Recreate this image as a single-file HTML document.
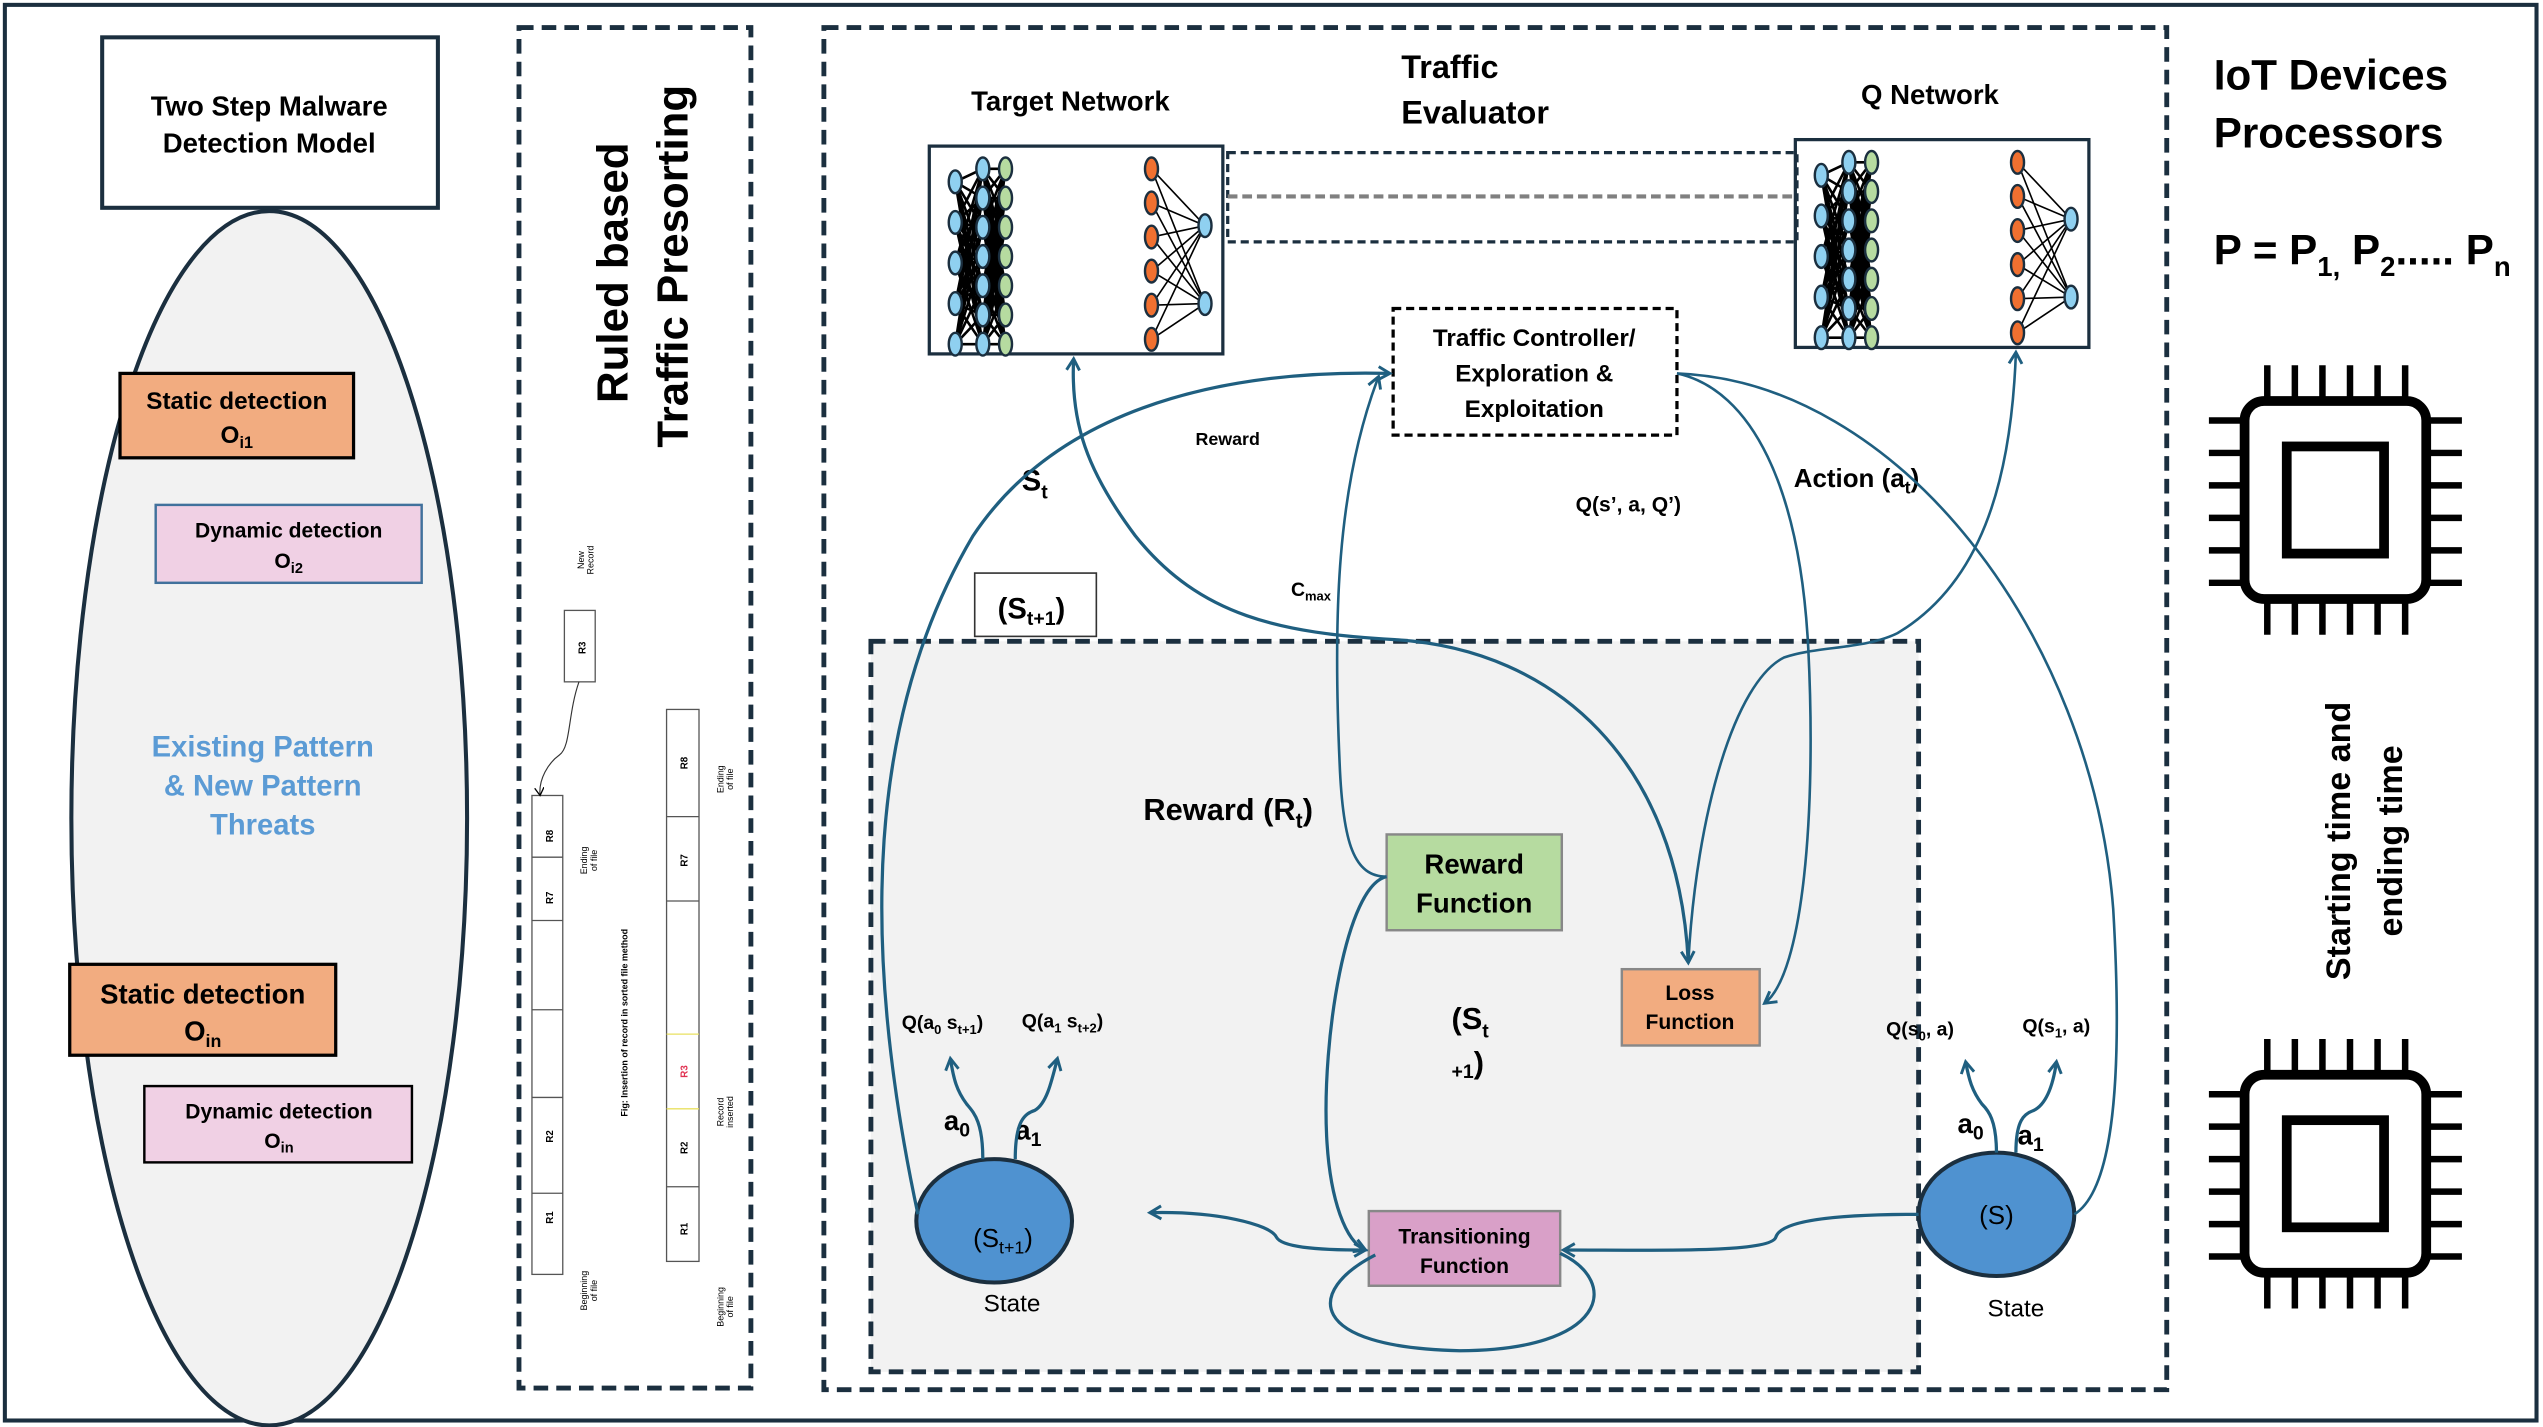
<!DOCTYPE html>
<html><head><meta charset="utf-8"><style>
html,body{margin:0;padding:0;background:#fff;}
svg{display:block;}
text{font-family:"Liberation Sans",sans-serif;font-weight:bold;fill:#000;}
</style></head><body>
<svg id="s" width="2543" height="1427" viewBox="0 0 1568 879" preserveAspectRatio="none" xmlns="http://www.w3.org/2000/svg">
<defs>
<marker id="ar" markerWidth="10" markerHeight="10" refX="8" refY="5" orient="auto" markerUnits="userSpaceOnUse">
<path d="M1,1 L8,5 L1,9" fill="none" stroke="#1f5f80" stroke-width="1.8"/></marker>
<marker id="ars" markerWidth="10" markerHeight="10" refX="2" refY="5" orient="auto" markerUnits="userSpaceOnUse">
<path d="M9,1 L2,5 L9,9" fill="none" stroke="#1f5f80" stroke-width="1.8"/></marker>
<marker id="ak" markerWidth="6" markerHeight="6" refX="5" refY="3" orient="auto" markerUnits="userSpaceOnUse">
<path d="M0,0 L5,3 L0,6" fill="none" stroke="#000" stroke-width="0.8"/></marker>
</defs>
<rect x="3" y="3" width="1561" height="872" fill="#fff" stroke="#1b2f3f" stroke-width="2.5"/>

<!-- LEFT PANEL -->
<rect x="63" y="23" width="207" height="105" fill="#fff" stroke="#1b2f3f" stroke-width="2.5"/>
<text x="166" y="71" font-size="17" text-anchor="middle">Two Step Malware</text>
<text x="166" y="94" font-size="17" text-anchor="middle">Detection Model</text>
<ellipse cx="166" cy="504" rx="122" ry="374" fill="#f2f2f2" stroke="#1b2f3f" stroke-width="2.5"/>
<rect x="74" y="230" width="144" height="52" fill="#f2ac80" stroke="#000" stroke-width="2"/>
<text x="146" y="252" font-size="15" text-anchor="middle">Static detection</text>
<text x="146" y="273" font-size="15" text-anchor="middle">O<tspan font-size="10" dy="3">i1</tspan></text>
<rect x="96" y="311" width="164" height="48" fill="#f0d0e4" stroke="#41719c" stroke-width="1.5"/>
<text x="178" y="331" font-size="13" text-anchor="middle">Dynamic detection</text>
<text x="178" y="350" font-size="13" text-anchor="middle">O<tspan font-size="9" dy="3">i2</tspan></text>
<text x="162" y="466" font-size="18" text-anchor="middle" style="fill:#5b9bd5">Existing Pattern</text>
<text x="162" y="490" font-size="18" text-anchor="middle" style="fill:#5b9bd5">&amp; New Pattern</text>
<text x="162" y="514" font-size="18" text-anchor="middle" style="fill:#5b9bd5">Threats</text>
<rect x="43" y="594" width="164" height="56" fill="#f2ac80" stroke="#000" stroke-width="2"/>
<text x="125" y="618" font-size="17" text-anchor="middle">Static detection</text>
<text x="125" y="641" font-size="17" text-anchor="middle">O<tspan font-size="11" dy="4">in</tspan></text>
<rect x="89" y="669" width="165" height="47" fill="#f0d0e4" stroke="#000" stroke-width="1.5"/>
<text x="172" y="689" font-size="13" text-anchor="middle">Dynamic detection</text>
<text x="172" y="707" font-size="13" text-anchor="middle">O<tspan font-size="9" dy="3">in</tspan></text>

<!-- MIDDLE PANEL -->
<rect x="320" y="17" width="143" height="838" fill="none" stroke="#1b2f3f" stroke-width="3" stroke-dasharray="9,5"/>
<text transform="translate(387,168) rotate(-90)" font-size="27" text-anchor="middle">Ruled based</text>
<text transform="translate(424,164) rotate(-90)" font-size="27" text-anchor="middle">Traffic Presorting</text>
<g stroke="#555" stroke-width="0.8" fill="#fff">
<rect x="328" y="490" width="19" height="295"/>
<line x1="328" y1="528" x2="347" y2="528"/><line x1="328" y1="567" x2="347" y2="567"/>
<line x1="328" y1="622" x2="347" y2="622"/><line x1="328" y1="676" x2="347" y2="676"/>
<line x1="328" y1="735" x2="347" y2="735"/>
<rect x="348" y="376" width="19" height="44"/>
<rect x="411" y="437" width="20" height="340"/>
<line x1="411" y1="503" x2="431" y2="503"/><line x1="411" y1="555" x2="431" y2="555"/>
<line x1="411" y1="637" x2="431" y2="637" stroke="#e8e060"/><line x1="411" y1="683" x2="431" y2="683" stroke="#e8e060"/>
<line x1="411" y1="731" x2="431" y2="731"/>
</g>
<path d="M357,420 C350,440 352,460 345,465 C338,470 332,480 333,490" fill="none" stroke="#333" stroke-width="0.7" marker-end="url(#ak)"/>
<g font-size="6" style="font-weight:bold">
<text transform="translate(341,515) rotate(-90)" text-anchor="middle">R8</text>
<text transform="translate(341,553) rotate(-90)" text-anchor="middle">R7</text>
<text transform="translate(341,700) rotate(-90)" text-anchor="middle">R2</text>
<text transform="translate(341,750) rotate(-90)" text-anchor="middle">R1</text>
<text transform="translate(361,399) rotate(-90)" text-anchor="middle">R3</text>
<text transform="translate(424,470) rotate(-90)" text-anchor="middle">R8</text>
<text transform="translate(424,530) rotate(-90)" text-anchor="middle">R7</text>
<text transform="translate(424,660) rotate(-90)" text-anchor="middle" style="fill:#e03050">R3</text>
<text transform="translate(424,707) rotate(-90)" text-anchor="middle">R2</text>
<text transform="translate(424,757) rotate(-90)" text-anchor="middle">R1</text>
<text transform="translate(387,630) rotate(-90)" text-anchor="middle" font-size="5.5">Fig: Insertion of record in sorted file method</text>
</g>
<g font-size="5.5" style="font-weight:normal">
<text transform="translate(360,345) rotate(-90)" text-anchor="middle" style="font-weight:normal">New</text>
<text transform="translate(366,345) rotate(-90)" text-anchor="middle" style="font-weight:normal">Record</text>
<text transform="translate(362,530) rotate(-90)" text-anchor="middle" style="font-weight:normal">Ending</text>
<text transform="translate(368,530) rotate(-90)" text-anchor="middle" style="font-weight:normal">of file</text>
<text transform="translate(362,795) rotate(-90)" text-anchor="middle" style="font-weight:normal">Beginning</text>
<text transform="translate(368,795) rotate(-90)" text-anchor="middle" style="font-weight:normal">of file</text>
<text transform="translate(446,480) rotate(-90)" text-anchor="middle" style="font-weight:normal">Ending</text>
<text transform="translate(452,480) rotate(-90)" text-anchor="middle" style="font-weight:normal">of file</text>
<text transform="translate(446,685) rotate(-90)" text-anchor="middle" style="font-weight:normal">Record</text>
<text transform="translate(452,685) rotate(-90)" text-anchor="middle" style="font-weight:normal">inserted</text>
<text transform="translate(446,805) rotate(-90)" text-anchor="middle" style="font-weight:normal">Beginning</text>
<text transform="translate(452,805) rotate(-90)" text-anchor="middle" style="font-weight:normal">of file</text>
</g>

<!-- MAIN PANEL -->
<rect x="508" y="17" width="828" height="839" fill="none" stroke="#1b2f3f" stroke-width="3" stroke-dasharray="9,5"/>
<rect x="537" y="395" width="646" height="450" fill="#f2f2f2" stroke="#1b2f3f" stroke-width="3" stroke-dasharray="9,5"/>
<text x="660" y="68" font-size="17" text-anchor="middle">Target Network</text>
<text x="864" y="48" font-size="20">Traffic</text>
<text x="864" y="76" font-size="20">Evaluator</text>
<text x="1190" y="64" font-size="17" text-anchor="middle">Q Network</text>
<rect x="573" y="90" width="181" height="128" fill="#fff" stroke="#1b2f3f" stroke-width="2"/>
<rect x="1107" y="86" width="181" height="128" fill="#fff" stroke="#1b2f3f" stroke-width="2"/>
<g id="nn1"></g><g id="nn2"></g>
<rect x="757" y="94" width="351" height="55" fill="none" stroke="#1b2f3f" stroke-width="2" stroke-dasharray="5,3"/>
<line x1="757" y1="121" x2="1108" y2="121" stroke="#808080" stroke-width="2.5" stroke-dasharray="6,3"/>
<rect x="859" y="190" width="175" height="78" fill="#fff" stroke="#000" stroke-width="2" stroke-dasharray="5,3"/>
<text x="946" y="213" font-size="15" text-anchor="middle">Traffic Controller/</text>
<text x="946" y="235" font-size="15" text-anchor="middle">Exploration &amp;</text>
<text x="946" y="257" font-size="15" text-anchor="middle">Exploitation</text>

<rect x="601" y="353" width="75" height="39" fill="#fff" stroke="#333" stroke-width="1"/>
<text x="636" y="381" font-size="18" text-anchor="middle">(S<tspan font-size="12" dy="4">t+1</tspan><tspan dy="-4">)</tspan></text>
<text x="757" y="274" font-size="11" text-anchor="middle">Reward</text>
<text x="630" y="302" font-size="18">S<tspan font-size="12" dy="5">t</tspan></text>
<text x="1004" y="315" font-size="13" text-anchor="middle">Q(s’, a, Q’)</text>
<text x="1106" y="300" font-size="16">Action (a<tspan font-size="11" dy="4">t</tspan><tspan dy="-4">)</tspan></text>
<text x="796" y="367" font-size="12">C<tspan font-size="8" dy="3">max</tspan></text>
<text x="705" y="505" font-size="19">Reward (R<tspan font-size="13" dy="5">t</tspan><tspan dy="-5">)</tspan></text>
<rect x="855" y="514" width="108" height="59" fill="#b6dba0" stroke="#888" stroke-width="1.5"/>
<text x="909" y="538" font-size="17" text-anchor="middle">Reward</text>
<text x="909" y="562" font-size="17" text-anchor="middle">Function</text>
<rect x="1000" y="597" width="85" height="47" fill="#f2ac80" stroke="#888" stroke-width="1.5"/>
<text x="1042" y="616" font-size="13" text-anchor="middle">Loss</text>
<text x="1042" y="634" font-size="13" text-anchor="middle">Function</text>
<text x="895" y="634" font-size="19">(S<tspan font-size="12" dy="5">t</tspan></text>
<text x="895" y="664" font-size="12">+1<tspan font-size="19" dy="-3">)</tspan></text>
<rect x="844" y="746" width="118" height="46" fill="#d9a0c8" stroke="#888" stroke-width="1.5"/>
<text x="903" y="766" font-size="13" text-anchor="middle">Transitioning</text>
<text x="903" y="784" font-size="13" text-anchor="middle">Function</text>

<ellipse cx="613" cy="752" rx="48" ry="38" fill="#4f92d0" stroke="#1b2f3f" stroke-width="2.5"/>
<text x="600" y="768" font-size="16" style="font-weight:normal">(S<tspan font-size="11" dy="4">t+1</tspan><tspan dy="-4">)</tspan></text>
<text x="624" y="808" font-size="15" text-anchor="middle" style="font-weight:normal">State</text>
<ellipse cx="1231" cy="748" rx="48" ry="38" fill="#4f92d0" stroke="#1b2f3f" stroke-width="2.5"/>
<text x="1231" y="754" font-size="16" text-anchor="middle" style="font-weight:normal">(S)</text>
<text x="1243" y="811" font-size="15" text-anchor="middle" style="font-weight:normal">State</text>

<text x="556" y="634" font-size="12">Q(a<tspan font-size="8" dy="3">0</tspan><tspan dy="-3"> s</tspan><tspan font-size="8" dy="3">t+1</tspan><tspan dy="-3">)</tspan></text>
<text x="630" y="633" font-size="12">Q(a<tspan font-size="8" dy="3">1</tspan><tspan dy="-3"> s</tspan><tspan font-size="8" dy="3">t+2</tspan><tspan dy="-3">)</tspan></text>
<text x="1163" y="638" font-size="12">Q(s<tspan font-size="8" dy="3">0</tspan><tspan dy="-3">, a)</tspan></text>
<text x="1247" y="636" font-size="12">Q(s<tspan font-size="8" dy="3">1</tspan><tspan dy="-3">, a)</tspan></text>
<text x="582" y="696" font-size="17">a<tspan font-size="12" dy="4">0</tspan></text>
<text x="626" y="702" font-size="17">a<tspan font-size="12" dy="4">1</tspan></text>
<text x="1207" y="698" font-size="17">a<tspan font-size="12" dy="4">0</tspan></text>
<text x="1244" y="705" font-size="17">a<tspan font-size="12" dy="4">1</tspan></text>

<g fill="none" stroke="#1f5f80" stroke-width="2">
<path d="M606,714 C606,690 600,685 596,680 C590,672 588,665 586,652" marker-end="url(#ar)"/>
<path d="M606,714 C606,690 612,686 618,684 C625,680 628,668 632,652" marker-end="url(#ar)" transform="translate(20,0)"/>
<path d="M1231,710 C1231,690 1226,684 1222,680 C1216,672 1214,665 1212,654" marker-end="url(#ar)"/>
<path d="M1231,710 C1231,690 1236,686 1242,684 C1250,680 1254,668 1256,654" marker-end="url(#ar)" transform="translate(12,0)"/>
<path d="M566,748 C530,580 535,440 600,330 C660,240 780,228 857,230" marker-end="url(#ar)"/>
<path d="M1041,593 C1035,470 960,400 860,394 C790,390 740,380 700,330 C670,290 660,260 662,221" marker-end="url(#ar)" marker-start="url(#ars)"/>
<path d="M855,540 C835,540 828,520 826,470 C822,380 824,300 850,232" marker-end="url(#ar)" stroke-width="1.6"/>
<path d="M855,540 C830,545 815,640 818,700 C820,740 830,765 842,770" marker-end="url(#ar)"/>
<path d="M1034,230 C1080,240 1110,300 1115,400 C1120,500 1112,600 1088,618" marker-end="url(#ar)" stroke-width="1.6"/>
<path d="M1034,230 C1170,235 1290,390 1303,560 C1310,680 1300,735 1279,748" stroke-width="1.6"/>
<path d="M1041,593 C1046,500 1070,420 1100,405 C1120,398 1150,400 1170,390 C1220,360 1240,300 1243,217" marker-end="url(#ar)" stroke-width="1.6"/>
<path d="M1183,748 C1130,748 1098,752 1095,762 C1092,772 1020,770 964,770" marker-end="url(#ar)"/>
<path d="M842,770 C810,770 790,768 787,762 C783,754 750,746 709,747" marker-end="url(#ar)" marker-start="url(#ars)"/>
<path d="M848,773 C805,795 805,830 900,832 C990,832 1000,790 962,772"/>
</g>

<!-- RIGHT PANEL -->
<text x="1365" y="55" font-size="26">IoT Devices</text>
<text x="1365" y="91" font-size="26">Processors</text>
<text x="1365" y="163" font-size="26">P = P<tspan font-size="17" dy="7">1,</tspan><tspan dy="-7"> P</tspan><tspan font-size="17" dy="7">2</tspan><tspan dy="-7">..... P</tspan><tspan font-size="17" dy="7">n</tspan></text>
<g id="chips"></g>
<text transform="translate(1449,518) rotate(-90)" font-size="21" text-anchor="middle">Starting time and</text>
<text transform="translate(1481,518) rotate(-90)" font-size="21" text-anchor="middle">ending time</text>
</svg>
<script>
var NS="http://www.w3.org/2000/svg";
function el(p,t,a){var e=document.createElementNS(NS,t);for(var k in a)e.setAttribute(k,a[k]);p.appendChild(e);return e;}
function nn(g,x0,y0){
 var c=[[x0+16,[20,45,70,95,120]],[x0+33,[12,32,52,72,92,112,122].map(function(v,i){return 12+i*18;})],[x0+47,[12,30,48,66,84,102,120]],[x0+137,[12,33,54,75,96,117]],[x0+170,[47,95]]];
 for(var i=0;i<c.length-1;i++){ if(i==2)continue;
  c[i][1].forEach(function(a){c[i+1][1].forEach(function(b){el(g,"line",{x1:c[i][0],y1:y0+a,x2:c[i+1][0],y2:y0+b,stroke:"#000","stroke-width":i<2?1.6:1});});});}
 var cols=["#8fd0f0","#8fd0f0","#b6dba0","#f07030","#8fd0f0"];
 c.forEach(function(cc,i){cc[1].forEach(function(v){el(g,"ellipse",{cx:cc[0],cy:y0+v,rx:4,ry:7,fill:cols[i],stroke:"#1b2f3f","stroke-width":1.5});});});
}
nn(document.getElementById("nn1"),573,92);
nn(document.getElementById("nn2"),1107,88);
var ch=document.getElementById("chips");
function chip(y){
 el(ch,"rect",{x:1384,y:y,width:112,height:122,rx:12,fill:"#fff",stroke:"#000","stroke-width":6});
 el(ch,"rect",{x:1410,y:y+28,width:60,height:66,fill:"#fff",stroke:"#000","stroke-width":6});
 for(var i=0;i<6;i++){var x=1398+i*17;
  el(ch,"line",{x1:x,y1:y-22,x2:x,y2:y,stroke:"#000","stroke-width":4});
  el(ch,"line",{x1:x,y1:y+122,x2:x,y2:y+144,stroke:"#000","stroke-width":4});
  var yy=y+12+i*20;
  el(ch,"line",{x1:1362,y1:yy,x2:1384,y2:yy,stroke:"#000","stroke-width":4});
  el(ch,"line",{x1:1496,y1:yy,x2:1518,y2:yy,stroke:"#000","stroke-width":4});}
}
chip(247);chip(662);
</script>
</body></html>
